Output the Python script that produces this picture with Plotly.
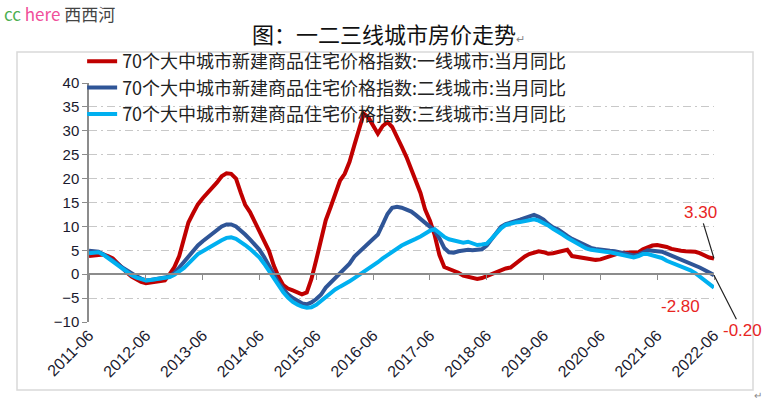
import plotly.graph_objects as go
import pandas as pd

# ---------------- data ----------------
months = pd.date_range("2011-06-01", "2022-06-01", freq="MS")

tier1 = [3.8, 3.9, 4.0, 4.1, 3.8, 3.3, 2.3, 1.2, 0.3, -0.5, -1.1, -1.6, -1.9, -1.8, -1.7, -1.5, -1.3, 0.0, 1.5, 3.8,
         7.5, 10.8, 12.8, 14.6, 15.9, 16.9, 17.9, 19.2, 20.5, 21.1, 21.0, 20.0, 17.0, 14.5, 13.0, 11.0, 9.0, 7.3, 4.9, 1.8,
         -0.5, -2.3, -3.0, -3.4, -3.8, -4.2, -3.8, -1.0, 3.0, 7.0, 11.3, 14.0, 16.5, 19.6, 21.0, 23.5, 27.0, 30.5, 33.6, 32.8,
         31.0, 29.4, 31.0, 31.8, 30.8, 28.5, 26.7, 24.5, 22.0, 19.6, 17.0, 13.5, 11.2, 8.2, 4.0, 1.5, 1.1, 0.8, 0.3, -0.3,
         -0.5, -0.8, -1.0, -0.8, -0.4, 0.0, 0.6, 1.0, 1.2, 1.4, 2.2, 3.1, 3.7, 4.2, 4.6, 4.8, 4.6, 4.3, 4.4, 4.6,
         4.9, 5.1, 3.8, 3.6, 3.4, 3.2, 3.0, 3.0, 3.1, 3.4, 3.9, 4.2, 4.4, 4.5, 4.5, 4.4, 4.6, 5.2, 5.7, 6.0,
         6.1, 6.0, 5.7, 5.3, 5.0, 4.9, 4.8, 4.7, 4.7, 4.4, 3.9, 3.5, 3.3]

tier2 = [4.9, 4.8, 4.7, 4.2, 3.6, 3.0, 2.2, 1.4, 0.7, 0.1, -0.4, -0.9, -1.3, -1.2, -1.1, -0.9, -0.7, -0.4, 0.3, 1.4,
         2.6, 3.8, 5.0, 6.0, 6.9, 7.6, 8.4, 9.2, 10.0, 10.4, 10.4, 10.0, 9.2, 8.3, 7.3, 6.3, 5.1, 3.6, 1.8, -0.3,
         -1.8, -3.1, -4.2, -5.0, -5.7, -6.1, -6.3, -5.9, -5.2, -4.3, -2.8, -1.8, -0.8, 0.3, 1.2, 2.2, 3.7, 4.6, 5.6, 6.5,
         7.3, 8.3, 10.4, 12.6, 13.9, 14.1, 13.9, 13.6, 13.1, 12.4, 11.6, 10.8, 10.0, 9.1, 7.5, 5.5, 4.6, 4.5, 4.8, 5.0,
         5.1, 5.0, 5.1, 5.2, 6.0, 7.3, 8.8, 9.9, 10.5, 10.9, 11.1, 11.4, 11.8, 12.2, 12.4, 12.0, 11.4, 10.5, 9.8, 9.4,
         8.6, 8.0, 7.4, 6.9, 6.4, 5.8, 5.5, 5.3, 5.1, 5.0, 4.9, 4.8, 4.6, 4.4, 4.1, 3.9, 4.1, 4.6, 5.0, 4.9,
         4.8, 4.7, 4.3, 3.9, 3.5, 3.1, 2.7, 2.3, 1.9, 1.4, 0.9, 0.4, -0.2]

tier3 = [4.4, 4.6, 4.6, 4.1, 3.4, 2.6, 1.8, 1.0, 0.4, -0.2, -0.7, -1.1, -1.3, -1.2, -1.1, -1.0, -0.9, -0.6, -0.1, 0.6,
         1.3, 2.2, 3.3, 4.2, 4.8, 5.4, 5.9, 6.4, 7.1, 7.6, 7.7, 7.4, 6.8, 6.1, 5.3, 4.4, 3.5, 2.2, 0.6, -0.9,
         -2.4, -3.8, -4.9, -5.8, -6.4, -6.8, -7.0, -6.9, -6.4, -5.6, -4.6, -3.9, -3.2, -2.6, -2.1, -1.5, -0.8, -0.2, 0.5, 1.2,
         1.8, 2.5, 3.3, 4.0, 4.7, 5.4, 6.0, 6.5, 6.9, 7.4, 7.9, 8.5, 9.1, 9.4, 8.6, 7.8, 7.3, 7.0, 6.8, 6.6,
         6.8, 6.4, 6.1, 6.2, 6.4, 7.4, 8.6, 9.6, 10.3, 10.6, 10.8, 10.9, 11.1, 11.4, 11.5, 11.2, 10.8, 10.2, 9.5, 9.0,
         8.3, 7.6, 7.0, 6.4, 5.9, 5.4, 5.1, 4.9, 4.8, 4.7, 4.6, 4.4, 4.1, 3.9, 3.7, 3.5, 3.8, 4.2, 4.2, 4.0,
         3.8, 3.4, 2.8, 2.4, 2.0, 1.6, 1.2, 0.8, 0.2, -0.5, -1.2, -2.0, -2.8]

series_names = [
    "70个大中城市新建商品住宅价格指数:一线城市:当月同比",
    "70个大中城市新建商品住宅价格指数:二线城市:当月同比",
    "70个大中城市新建商品住宅价格指数:三线城市:当月同比",
]
tick_dates = pd.date_range("2011-06-01", "2022-06-01", freq="12MS")
tick_labels = ["2011-06", "2012-06", "2013-06", "2014-06", "2015-06", "2016-06",
               "2017-06", "2018-06", "2019-06", "2020-06", "2021-06", "2022-06"]
y_ticks = [-10, -5, 0, 5, 10, 15, 20, 25, 30, 35, 40]
end_labels = ["3.30", "-0.20", "-2.80"]

# ---------------- style ----------------
colors = ["#C00000", "#2F5597", "#00B0F0"]
CJK = "Noto Sans CJK SC"
TXT = "#1a1a2e"

fig = go.Figure()
fig.add_trace(go.Scatter(x=months, y=tier1, name=series_names[0], mode="lines",
                         line=dict(color=colors[0], width=4)))
fig.add_trace(go.Scatter(x=months, y=tier2, name=series_names[1], mode="lines",
                         line=dict(color=colors[1], width=4)))
fig.add_trace(go.Scatter(x=months, y=tier3, name=series_names[2], mode="lines",
                         line=dict(color=colors[2], width=4), xaxis="x2"))

x_range = [months[0], months[-1]]

fig.update_layout(
    width=764, height=402,
    margin=dict(l=89, r=50, t=83, b=80),
    paper_bgcolor="white", plot_bgcolor="white",
    font=dict(family="Arial, Liberation Sans", color=TXT),
    showlegend=True,
    legend=dict(x=-0.011, y=(322 - 43) / 239, xanchor="left", yanchor="top",
                bgcolor="rgba(0,0,0,0)", font=dict(family=CJK, size=18, color="#222"),
                tracegroupgap=0, itemwidth=30),
    xaxis=dict(range=x_range, tickvals=tick_dates, ticktext=tick_labels, tickangle=-45,
               showgrid=False, showline=False, ticks="", zeroline=False,
               tickfont=dict(size=16, color=TXT)),
    xaxis2=dict(matches="x", overlaying="x", anchor="free", position=0.2,
                showline=True, linecolor="#8c8c8c", linewidth=1.5,
                ticks="outside", ticklen=5, tickcolor="#8c8c8c", tickvals=tick_dates,
                showticklabels=False, showgrid=False, zeroline=False),
    yaxis=dict(range=[-10, 40], tickvals=y_ticks, showgrid=True, gridcolor="#c8c8c8",
               griddash="8px,4px,2px,4px", gridwidth=1, zeroline=False,
               showline=True, linecolor="#8c8c8c", linewidth=1.5,
               ticks="outside", ticklen=5, tickcolor="#8c8c8c",
               tickfont=dict(size=15, color=TXT)),
)

# outer frame
fig.add_shape(type="rect", xref="paper", yref="paper", x0=-0.1152, x1=1.0624, y0=-0.2845, y1=1.1297,
              line=dict(color="#d9d9d9", width=1.5), fillcolor="rgba(0,0,0,0)", layer="below")

# title
fig.add_annotation(xref="paper", yref="paper", x=(388 - 89) / 625, y=(322 - 33) / 239,
                   text="图：一二三线城市房价走势<span style='font-size:11px;color:#888'>↵</span>",
                   showarrow=False, xanchor="center", yanchor="middle",
                   font=dict(family=CJK, size=22, color="#111"))

# watermark
fig.add_annotation(xref="paper", yref="paper", x=(2 - 89) / 625, y=(322 - 13) / 239,
                   text="<span style='color:#4caf50'>cc</span> <span style='color:#f0509a'>here</span> "
                        "<span style='color:#444'>西西河</span>",
                   showarrow=False, xanchor="left", yanchor="middle",
                   font=dict(family=CJK, size=17))

# trailing paragraph mark
fig.add_annotation(xref="paper", yref="paper", x=(758 - 89) / 625, y=(322 - 394) / 239,
                   text="↵", showarrow=False, xanchor="center", yanchor="middle",
                   font=dict(family=CJK, size=10, color="#888"))

# end-value labels
lab_font = dict(family="Arial, Liberation Sans", size=17, color="#E8251F")
fig.add_annotation(x=months[-1], y=tier1[-1], text=end_labels[0], showarrow=True, arrowhead=0,
                   arrowwidth=1.2, arrowcolor="#222", ax=-14, ay=-46, font=lab_font)
fig.add_annotation(x=months[-1], y=tier2[-1], text=end_labels[1], showarrow=True, arrowhead=0,
                   arrowwidth=1.2, arrowcolor="#222", ax=28, ay=55, font=lab_font)
fig.add_annotation(x=months[-1], y=tier3[-1], text=end_labels[2], showarrow=False,
                   xshift=-34, yshift=-19, font=lab_font)

fig.write_html("out.html")
